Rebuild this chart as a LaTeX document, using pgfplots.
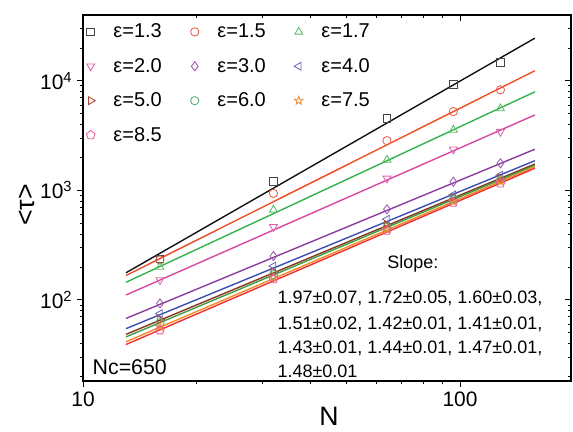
\documentclass[border=0pt]{standalone}
\usepackage{fontspec}
\setmainfont{Liberation Sans}
\usepackage{pgfplots}
\pgfplotsset{compat=1.18}
\usetikzlibrary{plotmarks}
\definecolor{l13}{HTML}{111111}\definecolor{m13}{HTML}{444444}
\definecolor{l15}{HTML}{EE4A2A}\definecolor{m15}{HTML}{E8604A}
\definecolor{l17}{HTML}{33B34A}\definecolor{m17}{HTML}{5DBB6E}
\definecolor{l20}{HTML}{D9489E}\definecolor{m20}{HTML}{D768AE}
\definecolor{l30}{HTML}{8B3C9E}\definecolor{m30}{HTML}{9A5DAE}
\definecolor{l40}{HTML}{3D4DB0}\definecolor{m40}{HTML}{6A6AB8}
\definecolor{l50}{HTML}{8A3520}\definecolor{m50}{HTML}{B0442E}
\definecolor{l60}{HTML}{3E9E45}\definecolor{m60}{HTML}{5AAE6A}
\definecolor{l75}{HTML}{F08A24}\definecolor{m75}{HTML}{EE8A30}
\definecolor{l85}{HTML}{F03030}\definecolor{m85}{HTML}{E85A9A}
\pgfdeclareplotmark{ostar}{%
  \pgfpathmoveto{\pgfpointpolar{90}{\pgfplotmarksize}}%
  \pgfpathlineto{\pgfpointpolar{126}{0.42\pgfplotmarksize}}%
  \pgfpathlineto{\pgfpointpolar{162}{\pgfplotmarksize}}%
  \pgfpathlineto{\pgfpointpolar{198}{0.42\pgfplotmarksize}}%
  \pgfpathlineto{\pgfpointpolar{234}{\pgfplotmarksize}}%
  \pgfpathlineto{\pgfpointpolar{270}{0.42\pgfplotmarksize}}%
  \pgfpathlineto{\pgfpointpolar{306}{\pgfplotmarksize}}%
  \pgfpathlineto{\pgfpointpolar{342}{0.42\pgfplotmarksize}}%
  \pgfpathlineto{\pgfpointpolar{18}{\pgfplotmarksize}}%
  \pgfpathlineto{\pgfpointpolar{54}{0.42\pgfplotmarksize}}%
  \pgfpathclose\pgfusepathqstroke}
\newcommand{\legtxt}[1]{\makebox[56pt][l]{#1}}
\begin{document}
\begin{tikzpicture}
\path[use as bounding box] (-62.25pt,-37.5pt) rectangle (367.5pt,285.75pt);
\begin{axis}[at={(0,0)}, anchor=south west, scale only axis, width=366pt, height=274.5pt,
  xmode=log, ymode=log, xmin=10, xmax=197, ymin=18.2, ymax=40000,
  xtick={10,100}, xticklabels={10,100},
  ytick={100,1000,10000}, yticklabels={10\textsuperscript{2},10\textsuperscript{3},10\textsuperscript{4}},
  minor xtick={20,30,40,50,60,70,80,90},
  minor ytick={20,30,40,50,60,70,80,90,200,300,400,500,600,700,800,900,2000,3000,4000,5000,6000,7000,8000,9000,20000,30000},
  tick align=outside, xtick pos=left, ytick pos=left,
  major tick length=4.5pt, minor tick length=2.5pt,
  tick style={black, line width=0.7pt},
  axis line style={line width=0.8pt},
  ticklabel style={font=\fontsize{15.7}{18}\selectfont},
  xlabel={N}, ylabel={<τ>},
  label style={font=\fontsize{20}{24}\selectfont},
  xlabel style={at={(axis description cs:0.504,-0.096)}, anchor=center},
  ylabel style={at={(axis description cs:-0.115,0.481)}, anchor=center},
  legend columns=3, legend cell align=left,
  legend style={at={(axis description cs:0,1)}, anchor=north west, xshift=0.8pt, yshift=0.25pt,
    draw=none, fill=none, inner sep=0pt, outer sep=0pt, column sep=0pt, row sep=0pt,
    nodes={inner sep=0pt, font=\fontsize{15}{18}\selectfont}},
  legend image code/.code={\path[draw=none, fill=none] (-5pt,-12.9pt) rectangle (17pt,12.9pt); \draw[#1] plot coordinates {(0pt,0pt)};},
  every axis plot/.append style={line width=1.05pt},
]
% fitted lines
\addplot[l13, forget plot] coordinates {(13,177) (158,24600)};
\addplot[l15, forget plot] coordinates {(13,167) (158,12400)};
\addplot[l17, forget plot] coordinates {(13,145) (158,7960)};
\addplot[l20, forget plot] coordinates {(13,111) (158,4890)};
\addplot[l30, forget plot] coordinates {(13,67.8) (158,2380)};
\addplot[l40, forget plot] coordinates {(13,54.7) (158,1870)};
\addplot[l50, forget plot] coordinates {(13,48.5) (158,1746)};
\addplot[l60, forget plot] coordinates {(13,46) (158,1700)};
\addplot[l75, forget plot] coordinates {(13,41.5) (158,1648)};
\addplot[l85, forget plot] coordinates {(13,39.2) (158,1596)};
% data markers
\addplot[m13, only marks, mark=square, mark size=2.9pt, mark options={solid, line width=0.65pt, fill=none}]
  coordinates {(16,237) (32,1200) (64,4560) (96,9300) (128,14700)};
\addlegendentry{\legtxt{ε=1.3}}
\addplot[m15, only marks, mark=o, mark size=3.1pt, mark options={solid, line width=0.65pt, fill=none}]
  coordinates {(16,232) (32,940) (64,2850) (96,5250) (128,8300)};
\addlegendentry{\legtxt{ε=1.5}}
\addplot[m17, only marks, mark=triangle, mark size=3.4pt, mark options={solid, line width=0.65pt, fill=none}]
  coordinates {(16,200) (32,665) (64,1900) (96,3570) (128,5600)};
\addlegendentry{\legtxt{ε=1.7}}
\addplot[m20, only marks, mark=triangle, mark size=3.4pt, mark options={solid, line width=0.65pt, fill=none, rotate=180}]
  coordinates {(16,152) (32,465) (64,1290) (96,2380) (128,3440)};
\addlegendentry{\legtxt{ε=2.0}}
\addplot[m30, only marks, mark=diamond, mark size=3.4pt, mark options={solid, line width=0.65pt, fill=none}]
  coordinates {(16,93) (32,252) (64,673) (96,1200) (128,1770)};
\addlegendentry{\legtxt{ε=3.0}}
\addplot[m40, only marks, mark=triangle, mark size=3.4pt, mark options={solid, line width=0.65pt, fill=none, rotate=90}]
  coordinates {(16,75) (32,204) (64,546) (96,910) (128,1380)};
\addlegendentry{\legtxt{ε=4.0}}
\addplot[m50, only marks, mark=triangle, mark size=3.4pt, mark options={solid, line width=0.65pt, fill=none, rotate=-90}]
  coordinates {(16,66) (32,180) (64,485) (96,865) (128,1300)};
\addlegendentry{\legtxt{ε=5.0}}
\addplot[m60, only marks, mark=o, mark size=3.1pt, mark options={solid, line width=0.65pt, fill=none}]
  coordinates {(16,62) (32,170) (64,460) (96,830) (128,1250)};
\addlegendentry{\legtxt{ε=6.0}}
\addplot[m75, only marks, mark=ostar, mark size=3.2pt, mark options={solid, line width=0.65pt, fill=none}]
  coordinates {(16,57) (32,160) (64,440) (96,795) (128,1210)};
\addlegendentry{\legtxt{ε=7.5}}
\addplot[m85, only marks, mark=pentagon, mark size=3.4pt, mark options={solid, line width=0.65pt, fill=none}]
  coordinates {(16,53) (32,155) (64,430) (96,774) (128,1160)};
\addlegendentry{\legtxt{ε=8.5}}
\node[anchor=base, font=\fontsize{13.5}{16}\selectfont] at (rel axis cs:0.676,0.307) {Slope:};
\node[anchor=base west, font=\fontsize{13.5}{16}\selectfont] at (rel axis cs:0.389,0.212) {1.97±0.07, 1.72±0.05, 1.60±0.03,};
\node[anchor=base west, font=\fontsize{13.5}{16}\selectfont] at (rel axis cs:0.389,0.141) {1.51±0.02, 1.42±0.01, 1.41±0.01,};
\node[anchor=base west, font=\fontsize{13.5}{16}\selectfont] at (rel axis cs:0.389,0.075) {1.43±0.01, 1.44±0.01, 1.47±0.01,};
\node[anchor=base west, font=\fontsize{13.5}{16}\selectfont] at (rel axis cs:0.389,0.0096) {1.48±0.01};
\node[anchor=base west, font=\fontsize{16}{19}\selectfont] at (rel axis cs:0.0102,0.0178) {Nc=650};
\end{axis}
\begin{axis}[at={(0,0)}, anchor=south west, scale only axis, width=366pt, height=274.5pt,
  xmode=log, ymode=log, xmin=10, xmax=197, ymin=18.2, ymax=40000,
  xtick={10,100}, xticklabels={}, ytick={100,1000,10000}, yticklabels={},
  minor xtick={20,30,40,50,60,70,80,90},
  minor ytick={20,30,40,50,60,70,80,90,200,300,400,500,600,700,800,900,2000,3000,4000,5000,6000,7000,8000,9000,20000,30000},
  tick align=inside, xtick pos=right, ytick pos=right,
  major tick length=4.5pt, minor tick length=2.5pt,
  tick style={black, line width=0.7pt},
  axis line style={line width=0.8pt}]
\end{axis}
\end{tikzpicture}
\end{document}
